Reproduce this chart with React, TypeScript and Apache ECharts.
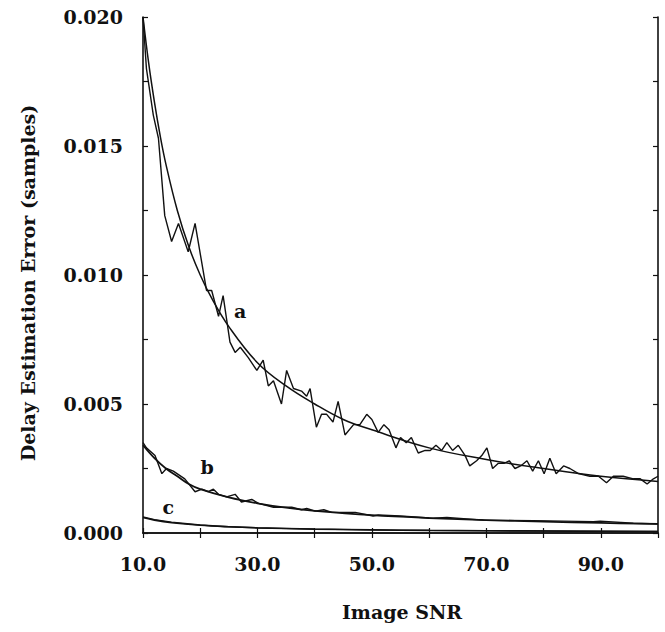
import React, { useEffect, useRef } from "react";
import * as echarts from "echarts";

// ---- data ----
const aNoisySNR = [10.0, 10.6, 11.8, 12.7, 13.8, 15.0, 16.2, 17.9, 19.1, 21.1, 22.0, 23.2, 24.0, 25.2, 26.1, 27.0, 28.4, 29.9, 31.0, 31.9, 32.8, 34.2, 35.1, 36.3, 37.7, 38.6, 39.2, 40.3, 41.2, 42.1, 43.2, 44.1, 45.3, 46.8, 47.9, 49.1, 50.0, 51.1, 52.1, 53.0, 54.2, 55.0, 56.0, 56.9, 58.1, 59.3, 60.2, 61.2, 62.2, 63.1, 64.1, 65.1, 66.3, 67.1, 68.3, 69.2, 70.1, 71.1, 72.1, 73.1, 74.0, 75.0, 76.0, 77.1, 78.1, 79.1, 80.1, 81.1, 82.2, 83.5, 84.6, 86.1, 88.1, 89.6, 91.0, 92.2, 93.9, 95.7, 96.9, 98.1, 99.2, 100];
const aNoisyErr = [0.0200, 0.0180, 0.0162, 0.0153, 0.0123, 0.0113, 0.0120, 0.0109, 0.0120, 0.0094, 0.0094, 0.0084, 0.0092, 0.0074, 0.0070, 0.0072, 0.0068, 0.0063, 0.0067, 0.0057, 0.0059, 0.0050, 0.0063, 0.0056, 0.0055, 0.0053, 0.0056, 0.0041, 0.0046, 0.0046, 0.0043, 0.0051, 0.0038, 0.0042, 0.0042, 0.0046, 0.0044, 0.0039, 0.0042, 0.0040, 0.0033, 0.0037, 0.0035, 0.0037, 0.0031, 0.0032, 0.0032, 0.0034, 0.0032, 0.0035, 0.0032, 0.0034, 0.0030, 0.0026, 0.0028, 0.0030, 0.0033, 0.0025, 0.0027, 0.0027, 0.0028, 0.0025, 0.0026, 0.0028, 0.0024, 0.0028, 0.0023, 0.0029, 0.0023, 0.0026, 0.0025, 0.0023, 0.0022, 0.0022, 0.00195, 0.0022, 0.0022, 0.0021, 0.0021, 0.0019, 0.0021, 0.0022];

const aFitSNR = [10, 11, 12, 13, 14, 16, 18, 20, 22, 25, 30, 35, 40, 45, 50, 60, 70, 80, 90, 100];
const aFitErr = [0.0200, 0.0182, 0.0167, 0.0154, 0.0143, 0.0125, 0.0111, 0.0100, 0.0091, 0.0080, 0.0066, 0.0057, 0.0050, 0.0044, 0.0040, 0.0033, 0.00285, 0.0025, 0.0022, 0.0020];

const bNoisySNR = [10, 10.6, 12.1, 13.3, 14.1, 15.3, 17.3, 19.1, 20.3, 21.4, 22.3, 23.2, 24.6, 26.1, 27.2, 29.0, 30.2, 32.8, 36.0, 37.7, 38.6, 40.1, 41.6, 43.0, 47.1, 50.2, 51.1, 54.9, 60.7, 63.1, 69.5, 78.2, 88.7, 89.9, 95.7, 100];
const bNoisyErr = [0.0035, 0.0033, 0.0030, 0.0023, 0.0025, 0.0024, 0.0021, 0.0016, 0.0017, 0.0016, 0.0017, 0.0015, 0.0014, 0.0015, 0.0012, 0.0013, 0.00115, 0.0010, 0.0010, 0.0009, 0.00095, 0.00085, 0.0009, 0.0008, 0.0008, 0.00066, 0.0007, 0.00066, 0.00057, 0.0006, 0.0005, 0.00048, 0.00044, 0.00046, 0.00038, 0.00035];

const bFitSNR = [10, 12, 14, 16, 18, 20, 25, 30, 35, 40, 50, 60, 70, 80, 90, 100];
const bFitErr = [0.0034, 0.0029, 0.0025, 0.0022, 0.0019, 0.0017, 0.00138, 0.00115, 0.00098, 0.00086, 0.00069, 0.00058, 0.0005, 0.00044, 0.00039, 0.00035];

const cNoisySNR = [10, 12, 15, 20, 25, 30, 40, 50, 60, 80, 100];
const cNoisyErr = [0.00062, 0.00052, 0.00042, 0.00031, 0.00024, 0.0002, 0.00015, 0.00012, 0.0001, 0.00008, 0.00006];
const cFitSNR = [10, 12, 15, 20, 25, 30, 40, 50, 60, 80, 100];
const cFitErr = [0.0006, 0.0005, 0.0004, 0.0003, 0.00024, 0.0002, 0.00015, 0.00012, 0.0001, 0.000075, 0.00006];

const curveNames = ["a", "b", "c"];
const curveLabelSNR = [27.0, 21.2, 14.4];
const curveLabelErr = [0.0086, 0.00257, 0.00102];

const xTitle = "Image SNR";
const yTitle = "Delay Estimation Error (samples)";

const zip = (xs: number[], ys: number[]) => xs.map((x, i) => [x, ys[i]]);

const FONT = "DejaVu Serif";
const INK = "#111";

export default function App() {
  const ref = useRef<HTMLDivElement>(null);
  useEffect(() => {
    if (!ref.current) return;
    const chart = echarts.init(ref.current, null, { renderer: "svg" });
    const lineSeries = (data: number[][], width: number, smooth: number | boolean) => ({
      type: "line",
      data,
      showSymbol: false,
      symbol: "none",
      smooth,
      lineStyle: { color: INK, width },
      xAxisIndex: 0,
      yAxisIndex: 0,
      z: 3,
    });
    const axisLine = { show: true, lineStyle: { color: INK, width: 1.6 } };
    const axisTick = { show: true, inside: true, length: 5, lineStyle: { color: INK, width: 1.2 } };
    const textStyle = { fontFamily: FONT, fontWeight: "bold", fontSize: 19, color: INK };
    const font = `bold 19px "${FONT}"`;
    chart.setOption({
      animation: false,
      backgroundColor: "#fff",
      grid: { left: 143, right: 7, top: 17, bottom: 99, outerBoundsMode: "none", containLabel: false },
      xAxis: [
        {
          type: "value",
          position: "bottom",
          min: 10,
          max: 100,
          interval: 10,
          axisLine,
          axisTick,
          splitLine: { show: false },
          axisLabel: {
            ...textStyle,
            margin: 21,
            showMaxLabel: false,
            formatter: (v: number) => (Math.round(v - 10) % 20 === 0 && v < 100 ? v.toFixed(1) : ""),
          },
        },
        {
          type: "value",
          position: "top",
          min: 10,
          max: 100,
          interval: 10,
          axisLine,
          axisTick,
          splitLine: { show: false },
          axisLabel: { show: false },
        },
      ],
      yAxis: [
        {
          type: "value",
          position: "left",
          min: 0,
          max: 0.02,
          interval: 0.0025,
          axisLine,
          axisTick,
          splitLine: { show: false },
          axisLabel: {
            ...textStyle,
            margin: 20,
            formatter: (v: number) => (Math.round(v / 0.0025) % 2 === 0 ? v.toFixed(3) : ""),
          },
        },
        {
          type: "value",
          position: "right",
          min: 0,
          max: 0.02,
          interval: 0.0025,
          axisLine,
          axisTick,
          splitLine: { show: false },
          axisLabel: { show: false },
        },
      ],
      series: [
        lineSeries(zip(aFitSNR, aFitErr), 1.5, 0.4),
        lineSeries(zip(aNoisySNR, aNoisyErr), 1.4, false),
        lineSeries(zip(bFitSNR, bFitErr), 1.8, 0.4),
        lineSeries(zip(bNoisySNR, bNoisyErr), 1.4, false),
        lineSeries(zip(cFitSNR, cFitErr), 1.6, 0.4),
        lineSeries(zip(cNoisySNR, cNoisyErr), 1.4, false),
      ],
    });
    const curveLabels = curveNames.map((n, i) => {
      const p = chart.convertToPixel({ gridIndex: 0 }, [curveLabelSNR[i], curveLabelErr[i]]) as number[];
      return {
        type: "text",
        x: p[0],
        y: p[1],
        z: 10,
        style: { text: n, fill: INK, align: "center", verticalAlign: "middle", font },
      };
    });
    chart.setOption({
      graphic: [
        {
          type: "text",
          x: 402,
          y: 612,
          style: { text: xTitle, fill: INK, align: "center", verticalAlign: "middle", font },
        },
        {
          type: "text",
          x: 28,
          y: 283,
          rotation: Math.PI / 2,
          style: { text: yTitle, fill: INK, align: "center", verticalAlign: "middle", font },
        },
        ...curveLabels,
      ],
    });
    return () => chart.dispose();
  }, []);
  return (
    <div
      ref={ref}
      style={{ position: "absolute", left: 0, top: 0, width: 665, height: 632, background: "#fff" }}
    />
  );
}
